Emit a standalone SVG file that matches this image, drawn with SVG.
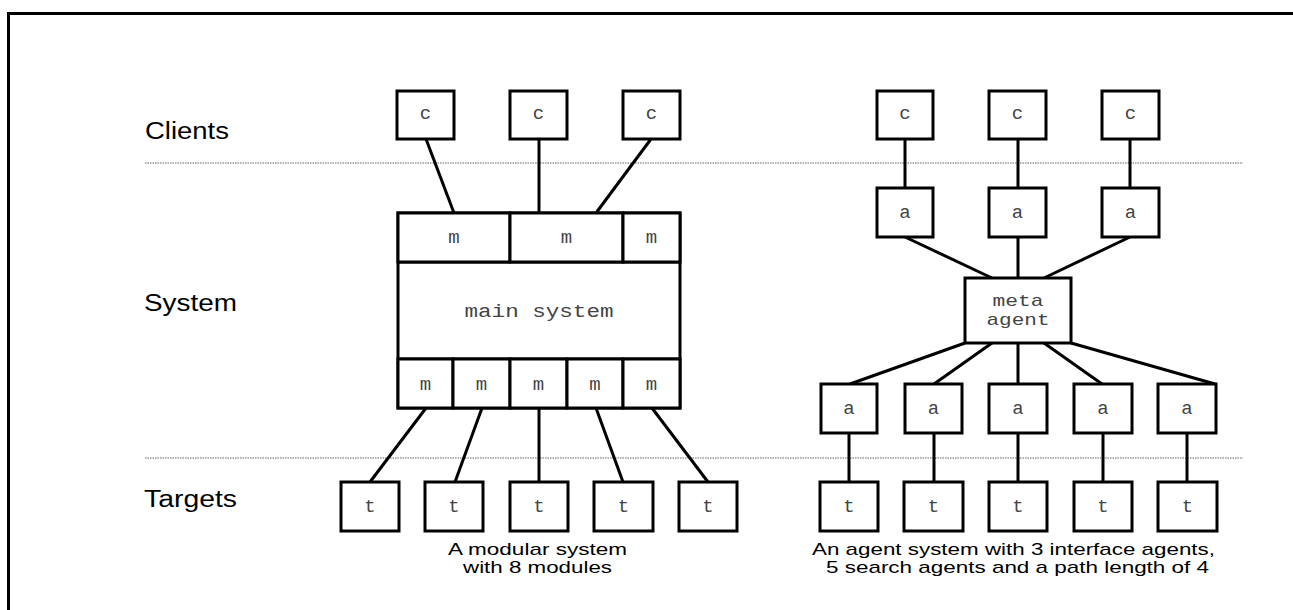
<svg xmlns="http://www.w3.org/2000/svg" width="1293" height="610" viewBox="0 0 1293 610">
<style>
.box{fill:#fff;stroke:#000;stroke-width:3}
.con line{stroke:#000;stroke-width:3}
.dot{stroke:#666;stroke-width:1.2;stroke-dasharray:1.5 1}
.mono{font-family:"Liberation Mono",monospace;font-size:19px;fill:#444;text-anchor:middle}
.sm{font-size:17px}
.sans{font-family:"Liberation Sans",Arial,sans-serif;fill:#000}
.lab{font-size:23px}
.cap{font-size:17px}
</style>
<rect width="1293" height="610" fill="#fff"/>
<path d="M8.5 640 V13.5 H1300" fill="none" stroke="#000" stroke-width="3"/>
<line class="dot" x1="145" y1="163" x2="1243" y2="163"/>
<line class="dot" x1="145" y1="458" x2="1243" y2="458"/>
<g id="labels" class="sans lab">
<text x="145" y="139" textLength="84" lengthAdjust="spacingAndGlyphs">Clients</text>
<text x="144" y="311" textLength="93" lengthAdjust="spacingAndGlyphs">System</text>
<text x="144" y="507" textLength="93" lengthAdjust="spacingAndGlyphs">Targets</text>
</g>
<g id="connectors" class="con">
<line x1="426" y1="139" x2="454" y2="213"/>
<line x1="539" y1="139" x2="539" y2="213"/>
<line x1="651" y1="139" x2="596" y2="213"/>
<line x1="426" y1="408" x2="370" y2="482"/>
<line x1="482" y1="408" x2="455" y2="482"/>
<line x1="539" y1="408" x2="539" y2="482"/>
<line x1="596" y1="408" x2="623" y2="482"/>
<line x1="652" y1="408" x2="708" y2="482"/>
<line x1="905" y1="139" x2="905" y2="188"/>
<line x1="1018" y1="139" x2="1018" y2="188"/>
<line x1="1130" y1="139" x2="1130" y2="188"/>
<line x1="905" y1="237" x2="992" y2="278"/>
<line x1="1018" y1="237" x2="1018" y2="278"/>
<line x1="1130" y1="237" x2="1044" y2="278"/>
<line x1="965" y1="343" x2="850" y2="384"/>
<line x1="992" y1="343" x2="934" y2="384"/>
<line x1="1018" y1="343" x2="1018" y2="384"/>
<line x1="1044" y1="343" x2="1102" y2="384"/>
<line x1="1071" y1="343" x2="1215" y2="384"/>
<line x1="849" y1="433" x2="849" y2="482"/>
<line x1="934" y1="433" x2="934" y2="482"/>
<line x1="1018" y1="433" x2="1018" y2="482"/>
<line x1="1103" y1="433" x2="1103" y2="482"/>
<line x1="1187" y1="433" x2="1187" y2="482"/>
</g>
<g id="lc1"><rect class="box" x="397" y="91" width="57" height="48"/><text class="mono" x="425.5" y="119">c</text></g>
<g id="lc2"><rect class="box" x="510" y="91" width="57" height="48"/><text class="mono" x="538.5" y="119">c</text></g>
<g id="lc3"><rect class="box" x="623" y="91" width="57" height="48"/><text class="mono" x="651.5" y="119">c</text></g>
<g id="main">
<rect class="box" x="398" y="213" width="282" height="195"/>
<line x1="398" y1="262" x2="680" y2="262" stroke="#000" stroke-width="3"/>
<line x1="398" y1="359" x2="680" y2="359" stroke="#000" stroke-width="3"/>
<text class="mono" x="539" y="317" textLength="149" lengthAdjust="spacingAndGlyphs">main system</text>
</g>
<g id="mt1"><rect class="box" x="398" y="213" width="112" height="49"/><text class="mono" x="454" y="243">m</text></g>
<g id="mt2"><rect class="box" x="510" y="213" width="113" height="49"/><text class="mono" x="566.5" y="243">m</text></g>
<g id="mt3"><rect class="box" x="623" y="213" width="57" height="49"/><text class="mono" x="651.5" y="243">m</text></g>
<g id="mb1"><rect class="box" x="398" y="359" width="55" height="49"/><text class="mono" x="425.5" y="390">m</text></g>
<g id="mb2"><rect class="box" x="453" y="359" width="57" height="49"/><text class="mono" x="481.5" y="390">m</text></g>
<g id="mb3"><rect class="box" x="510" y="359" width="57" height="49"/><text class="mono" x="538.5" y="390">m</text></g>
<g id="mb4"><rect class="box" x="567" y="359" width="56" height="49"/><text class="mono" x="595" y="390">m</text></g>
<g id="mb5"><rect class="box" x="623" y="359" width="57" height="49"/><text class="mono" x="651.5" y="390">m</text></g>
<g id="lt1"><rect class="box" x="341" y="482" width="58" height="49"/><text class="mono" x="370" y="512">t</text></g>
<g id="lt2"><rect class="box" x="425" y="482" width="58" height="49"/><text class="mono" x="454" y="512">t</text></g>
<g id="lt3"><rect class="box" x="510" y="482" width="58" height="49"/><text class="mono" x="539" y="512">t</text></g>
<g id="lt4"><rect class="box" x="594" y="482" width="59" height="49"/><text class="mono" x="623.5" y="512">t</text></g>
<g id="lt5"><rect class="box" x="679" y="482" width="58" height="49"/><text class="mono" x="708" y="512">t</text></g>
<g id="rc1"><rect class="box" x="877" y="91" width="56" height="48"/><text class="mono" x="905" y="119">c</text></g>
<g id="rc2"><rect class="box" x="989" y="91" width="57" height="48"/><text class="mono" x="1017.5" y="119">c</text></g>
<g id="rc3"><rect class="box" x="1102" y="91" width="57" height="48"/><text class="mono" x="1130.5" y="119">c</text></g>
<g id="ia1"><rect class="box" x="877" y="188" width="56" height="49"/><text class="mono" x="905" y="218">a</text></g>
<g id="ia2"><rect class="box" x="989" y="188" width="57" height="49"/><text class="mono" x="1017.5" y="218">a</text></g>
<g id="ia3"><rect class="box" x="1102" y="188" width="57" height="49"/><text class="mono" x="1130.5" y="218">a</text></g>
<g id="meta"><rect class="box" x="965" y="278" width="106" height="65"/>
<text class="mono sm" x="1018" y="306" textLength="51" lengthAdjust="spacingAndGlyphs">meta</text>
<text class="mono sm" x="1018" y="325" textLength="63" lengthAdjust="spacingAndGlyphs">agent</text></g>
<g id="sa1"><rect class="box" x="821" y="384" width="56" height="49"/><text class="mono" x="849" y="414">a</text></g>
<g id="sa2"><rect class="box" x="905" y="384" width="57" height="49"/><text class="mono" x="933.5" y="414">a</text></g>
<g id="sa3"><rect class="box" x="989" y="384" width="58" height="49"/><text class="mono" x="1018" y="414">a</text></g>
<g id="sa4"><rect class="box" x="1074" y="384" width="58" height="49"/><text class="mono" x="1103" y="414">a</text></g>
<g id="sa5"><rect class="box" x="1158" y="384" width="58" height="49"/><text class="mono" x="1187" y="414">a</text></g>
<g id="rt1"><rect class="box" x="820" y="482" width="58" height="49"/><text class="mono" x="849" y="512">t</text></g>
<g id="rt2"><rect class="box" x="904" y="482" width="59" height="49"/><text class="mono" x="933.5" y="512">t</text></g>
<g id="rt3"><rect class="box" x="989" y="482" width="58" height="49"/><text class="mono" x="1018" y="512">t</text></g>
<g id="rt4"><rect class="box" x="1074" y="482" width="58" height="49"/><text class="mono" x="1103" y="512">t</text></g>
<g id="rt5"><rect class="box" x="1158" y="482" width="59" height="49"/><text class="mono" x="1187.5" y="512">t</text></g>
<g id="captions" class="sans cap">
<text x="448" y="555" textLength="179" lengthAdjust="spacingAndGlyphs">A modular system</text>
<text x="463" y="573" textLength="149" lengthAdjust="spacingAndGlyphs">with 8 modules</text>
<text x="812" y="555" textLength="403" lengthAdjust="spacingAndGlyphs">An agent system with 3 interface agents,</text>
<text x="826" y="573" textLength="383" lengthAdjust="spacingAndGlyphs">5 search agents and a path length of 4</text>
</g>
</svg>
